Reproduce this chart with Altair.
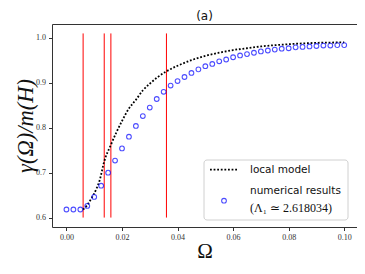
import altair as alt
import pandas as pd

# numerical results (circles)
omega_num = [0.0, 0.0025, 0.005, 0.0075, 0.01, 0.0125, 0.015, 0.0175, 0.02, 0.0225,
             0.025, 0.0275, 0.03, 0.0325, 0.035, 0.0375, 0.04, 0.0425, 0.045, 0.0475,
             0.05, 0.0525, 0.055, 0.0575, 0.06, 0.0625, 0.065, 0.0675, 0.07, 0.0725,
             0.075, 0.0775, 0.08, 0.0825, 0.085, 0.0875, 0.09, 0.0925, 0.095, 0.0975, 0.1]
gamma_num = [0.618, 0.618, 0.618, 0.626, 0.646, 0.671, 0.700, 0.727, 0.754, 0.780,
             0.804, 0.826, 0.845, 0.864, 0.880, 0.894, 0.904, 0.913, 0.922, 0.930,
             0.937, 0.942, 0.948, 0.952, 0.957, 0.961, 0.964, 0.967, 0.970, 0.972,
             0.974, 0.976, 0.977, 0.979, 0.980, 0.981, 0.982, 0.983, 0.983, 0.984, 0.984]

# local model (dotted curve)
omega_loc = [0.006, 0.0075, 0.009, 0.0108, 0.012, 0.0136, 0.016, 0.018, 0.020, 0.0225,
             0.025, 0.0276, 0.030, 0.0325, 0.0358, 0.040, 0.0457, 0.050, 0.055, 0.060,
             0.065, 0.070, 0.080, 0.090, 0.100]
gamma_loc = [0.618, 0.628, 0.643, 0.664, 0.684, 0.725, 0.762, 0.790, 0.815, 0.843,
             0.862, 0.884, 0.898, 0.911, 0.925, 0.938, 0.952, 0.960, 0.967, 0.973,
             0.977, 0.981, 0.986, 0.989, 0.990]

# vertical red lines
vlines = [0.006, 0.0136, 0.016, 0.036]
vline_lo = 0.6
vline_hi = 1.01

x_ticks = [0.0, 0.02, 0.04, 0.06, 0.08, 0.10]
y_ticks = [0.6, 0.7, 0.8, 0.9, 1.0]

df_num = pd.DataFrame({"omega": omega_num, "gamma": gamma_num})
df_loc = pd.DataFrame({"omega": omega_loc, "gamma": gamma_loc})
df_vl = pd.DataFrame({"omega": vlines, "lo": [vline_lo] * len(vlines), "hi": [vline_hi] * len(vlines)})

xscale = alt.Scale(domain=[-0.0052, 0.1046], nice=False, zero=False)
yscale = alt.Scale(domain=[0.579, 1.031], nice=False, zero=False)

xaxis = alt.Axis(values=x_ticks, format=".2f", title="Ω", grid=False,
                 labelFont="Liberation Serif", labelFontSize=8, labelColor="#333",
                 tickColor="#333", tickSize=3.5, labelPadding=3,
                 titleFont="Liberation Serif", titleFontSize=21, titleFontWeight="normal",
                 titleColor="#111", titleBaseline="alphabetic", titleY=30, domain=False)
yaxis = alt.Axis(values=y_ticks, format=".1f", title="γ(Ω)/m(H)", grid=False,
                 labelFont="Liberation Serif", labelFontSize=8, labelColor="#333",
                 tickColor="#333", tickSize=3.5, labelPadding=3,
                 titleFont="Liberation Serif", titleFontSize=22.5, titleFontWeight="normal",
                 titleFontStyle="italic", titleColor="#111", titleBaseline="middle",
                 titleX=-27, domain=False)

rules = alt.Chart(df_vl).mark_rule(color="red", strokeWidth=1).encode(
    x=alt.X("omega:Q", scale=xscale, axis=xaxis),
    y=alt.Y("lo:Q", scale=yscale, axis=yaxis),
    y2="hi:Q",
)

line = alt.Chart(df_loc).mark_line(color="black", strokeWidth=1.8, strokeDash=[1.8, 1.8],
                                   interpolate="monotone").encode(
    x=alt.X("omega:Q", scale=xscale),
    y=alt.Y("gamma:Q", scale=yscale),
)

points = alt.Chart(df_num).mark_point(shape="circle", filled=False, color="blue",
                                      size=22, strokeWidth=1.1).encode(
    x=alt.X("omega:Q", scale=xscale),
    y=alt.Y("gamma:Q", scale=yscale),
)

# legend box
legend_df = pd.DataFrame({"k": [0]})
box = alt.Chart(legend_df).mark_rect(fill="white", fillOpacity=0.8, stroke="#d0d0d0",
                                     strokeWidth=1, cornerRadius=3).encode(
    x=alt.value(152), x2=alt.value(296), y=alt.value(136), y2=alt.value(196))
sym_line = alt.Chart(legend_df).mark_rule(color="black", strokeWidth=1.8,
                                          strokeDash=[1.8, 1.8]).encode(
    x=alt.value(158), x2=alt.value(185), y=alt.value(145.7))
sym_pt = alt.Chart(legend_df).mark_point(shape="circle", filled=False, color="blue",
                                         size=22, strokeWidth=1.1).encode(
    x=alt.value(172), y=alt.value(176.7))
txt1 = alt.Chart(legend_df).mark_text(text="local model", font="DejaVu Sans", fontSize=10.5,
                                      align="left", baseline="middle", color="#111").encode(
    x=alt.value(198), y=alt.value(145.7))
txt2 = alt.Chart(legend_df).mark_text(text="numerical results", font="DejaVu Sans", fontSize=10.5,
                                      align="left", baseline="middle", color="#111").encode(
    x=alt.value(198), y=alt.value(166.5))
txt3 = alt.Chart(legend_df).mark_text(text="(Λ₁ ≃ 2.618034)", font="Liberation Serif", fontSize=12,
                                      align="left", baseline="middle", color="#111").encode(
    x=alt.value(198), y=alt.value(184))

chart = alt.layer(rules, line, points, box, sym_line, sym_pt, txt1, txt2, txt3).properties(
    width=305, height=203,
    title=alt.TitleParams(text="(a)", font="DejaVu Sans", fontSize=12, fontWeight="normal",
                          anchor="middle", offset=1, color="#111"),
    autosize=alt.AutoSizeParams(type="none"),
    padding={"left": 44, "top": 16, "right": 0, "bottom": 39},
).configure_view(stroke="#333", strokeWidth=1)

chart.save("out.html", embed_options={"renderer": "svg", "actions": False})
